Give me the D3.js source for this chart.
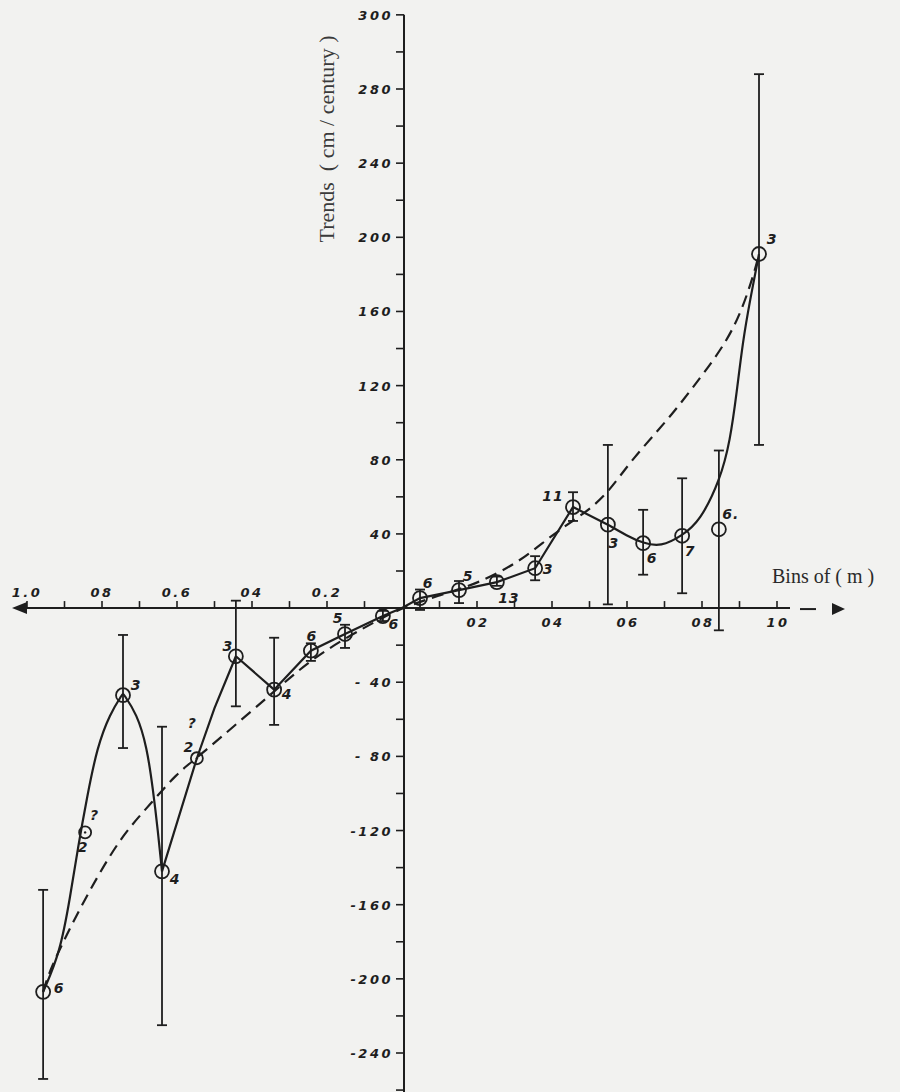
<!DOCTYPE html>
<html>
<head>
<meta charset="utf-8">
<script src="https://cdn.jsdelivr.net/npm/d3@7"></script>
<style>
  html, body { margin: 0; padding: 0; background: #f2f2f0; }
  svg { display: block; }
</style>
</head>
<body>
<div id="chart"></div>
<script>
// bins (m), negative = left branch of the figure
const binX = [-0.957, -0.845, -0.744, -0.64, -0.547, -0.443, -0.341, -0.243, -0.152, -0.051,
              0.048, 0.152, 0.253, 0.355, 0.456, 0.549, 0.643, 0.747, 0.845, 0.952];
const trend = [-207, -121, -47, -142, -81, -26, -44, -23, -14, -4.3,
               5.4, 9.7, 14, 21.5, 54.5, 45, 35, 39, 42.5, 191];
const errLow = [-254, null, -75.5, -225, null, -53, -63, -28.5, -21.5, -7,
                -1, 2.7, 12, 15, 47, 2, 18, 8, -12, 88];
const errHigh = [-152, null, -14.5, -64, null, 4, -16, -19, -9, -1.5,
                 10, 14.6, 17, 28, 62.5, 88, 53, 70, 85, 288];
const counts = ["6", "2", "3", "4", "2", "3", "4", "6", "5", "6",
                "6", "5", "13", "3", "11", "3", "6", "7", "6.", "3"];
const uncertain = [false, true, false, false, true, false, false, false, false, false,
                   false, false, false, false, false, false, false, false, false, false];

// hand drawn solid curve, in pieces (corners between pieces)
const solidSmoothLeft = [[-0.957, -207], [-0.912, -186], [-0.885, -156], [-0.864, -129], [-0.84, -102],
                         [-0.813, -75], [-0.779, -57], [-0.744, -46], [-0.744, -46], [-0.707, -57], [-0.68, -75],
                         [-0.664, -98], [-0.651, -120], [-0.64, -142]];
const solidMidLeft = [[-0.64, -142], [-0.547, -81], [-0.5, -54], [-0.443, -26]];
const solidCentre = [[-0.443, -26], [-0.341, -44], [-0.243, -23], [-0.152, -14], [-0.051, -4.3], [0, 0],
                     [0.048, 5.4], [0.152, 9.7], [0.253, 14], [0.355, 21.5], [0.456, 54.5], [0.549, 45]];
const solidSmoothRight = [[0.549, 45], [0.6, 39], [0.643, 35], [0.69, 33], [0.747, 39], [0.795, 47],
                          [0.848, 69], [0.875, 90], [0.893, 117], [0.909, 144], [0.928, 166], [0.952, 191]];

// dashed fitted curve
const dashedCurve = [[-0.957, -207], [-0.939, -195], [-0.877, -169], [-0.813, -145], [-0.744, -122],
                     [-0.672, -106], [-0.6, -89], [-0.547, -81], [-0.341, -45], [-0.25, -29], [-0.15, -16],
                     [-0.05, -5], [0, 0], [0.1, 7], [0.2, 13], [0.315, 25], [0.403, 40], [0.493, 52],
                     [0.549, 62], [0.616, 81], [0.707, 101], [0.795, 124], [0.867, 144], [0.909, 162],
                     [0.941, 182], [0.952, 191]];

const yMajor = [-240, -200, -160, -120, -80, -40, 40, 80, 120, 160, 200, 240, 280, 320];
const yMajorText = ["-240", "-200", "-160", "-120", "- 80", "- 40", "40", "80", "120", "160", "200", "240", "280", "300"];
const yMinor = [-260, -220, -180, -140, -100, -60, -20, 20, 60, 100, 140, 180, 220, 260, 300];
const xTicks = [-1, -0.9, -0.8, -0.7, -0.6, -0.5, -0.4, -0.3, -0.2, -0.1,
                0.1, 0.2, 0.3, 0.4, 0.5, 0.6, 0.7, 0.8, 0.9, 1.0];
const xLabelLeft = [-1, -0.8, -0.6, -0.4, -0.2];
const xLabelLeftText = ["1.0", "08", "0.6", "04", "0.2"];
const xLabelRight = [0.2, 0.4, 0.6, 0.8, 1.0];
const xLabelRightText = ["02", "04", "06", "08", "10"];

// where each count label (and its "?") sits relative to the circle
const labelOffset = [[16, -4], [-2, 15], [13, -10], [13, 8], [-8, -11], [-8, -10], [13, 4], [1, -15], [-7, -16], [11, 8],
                     [8, -15], [9, -14], [12, 16], [13, 1], [-20, -11], [6, 18], [9, 15], [8, 15], [12, -15], [13, -15]];
const qOffset = [null, [9, -17], null, null, [-5, -35], null, null, null, null, null,
                 null, null, null, null, null, null, null, null, null, null];

const width = 900, height = 1092;
const ink = "#1e1e1e";

const svg = d3.select("#chart").append("svg")
    .attr("width", width)
    .attr("height", height);

svg.append("rect").attr("width", width).attr("height", height).attr("fill", "#f2f2f0");

const x = d3.scaleLinear().domain([-1, 1]).range([27, 777]);
const y = d3.scaleLinear().domain([-240, 280]).range([1053, 89]);
const x0 = x(0) + 2, y0 = y(0);

const handFont = "'DejaVu Sans', sans-serif";

function hand(sel, size) {
    return sel.attr("font-family", handFont)
        .attr("font-style", "italic")
        .attr("font-weight", "bold")
        .attr("font-size", size)
        .attr("fill", ink);
}

// ---- vertical axis
svg.append("line")
    .attr("x1", x0).attr("x2", x0)
    .attr("y1", y(320)).attr("y2", height)
    .attr("stroke", ink).attr("stroke-width", 2);

svg.selectAll(".ytick").data(yMajor.concat(yMinor)).enter().append("line")
    .attr("x1", x0 - 8).attr("x2", x0)
    .attr("y1", d => y(d)).attr("y2", d => y(d))
    .attr("stroke", ink).attr("stroke-width", 1.6);

hand(svg.selectAll(".ylab").data(yMajor).enter().append("text"), 13)
    .attr("x", x0 - 11)
    .attr("y", d => y(d) + 5)
    .attr("text-anchor", "end")
    .attr("letter-spacing", 2.5)
    .text((d, i) => yMajorText[i]);

// ---- horizontal axis with arrows
svg.append("line")
    .attr("x1", 22).attr("x2", 790)
    .attr("y1", y0).attr("y2", y0)
    .attr("stroke", ink).attr("stroke-width", 2);
svg.append("line")
    .attr("x1", 800).attr("x2", 816)
    .attr("y1", y0 + 1).attr("y2", y0 + 1)
    .attr("stroke", ink).attr("stroke-width", 2);
svg.append("path")
    .attr("d", `M12,${y0} L27,${y0 - 6} L27,${y0 + 6} Z`)
    .attr("fill", ink);
svg.append("path")
    .attr("d", `M845,${y0 + 1} L832,${y0 - 5} L832,${y0 + 7} Z`)
    .attr("fill", ink);

svg.selectAll(".xt").data(xTicks).enter().append("line")
    .attr("x1", d => x(d)).attr("x2", d => x(d))
    .attr("y1", y0 - 7).attr("y2", y0)
    .attr("stroke", ink).attr("stroke-width", 1.6);

hand(svg.selectAll(".xll").data(xLabelLeft).enter().append("text"), 13)
    .attr("x", d => x(d))
    .attr("y", y0 - 11)
    .attr("text-anchor", "middle")
    .attr("letter-spacing", 2.5)
    .text((d, i) => xLabelLeftText[i]);

hand(svg.selectAll(".xlr").data(xLabelRight).enter().append("text"), 13)
    .attr("x", d => x(d) + 1)
    .attr("y", y0 + 19)
    .attr("text-anchor", "middle")
    .attr("letter-spacing", 2.5)
    .text((d, i) => xLabelRightText[i]);

// ---- axis titles
svg.append("text")
    .attr("transform", `translate(334,139) rotate(-90)`)
    .attr("text-anchor", "middle")
    .attr("font-family", "'Liberation Serif', serif")
    .attr("font-size", 22)
    .attr("fill", "#3a3a3a")
    .attr("xml:space", "preserve")
    .text("Trends  ( cm / century )");

svg.append("text")
    .attr("x", 772).attr("y", 583)
    .attr("font-family", "'Liberation Serif', serif")
    .attr("font-size", 20)
    .attr("fill", "#2a2a2a")
    .text("Bins of ( m )");

// ---- curves (B-spline smooths the hand-read points)
const line = d3.line().x(d => x(d[0])).y(d => y(d[1]));

svg.append("path")
    .attr("d", line.curve(d3.curveBasis)(dashedCurve))
    .attr("fill", "none").attr("stroke", ink)
    .attr("stroke-width", 2.2).attr("stroke-dasharray", "12,7");

[solidSmoothLeft, solidSmoothRight].forEach(seg => {
    svg.append("path")
        .attr("d", line.curve(d3.curveBasis)(seg))
        .attr("fill", "none").attr("stroke", ink).attr("stroke-width", 2.2);
});
[solidMidLeft, solidCentre].forEach(seg => {
    svg.append("path")
        .attr("d", line.curve(d3.curveLinear)(seg))
        .attr("fill", "none").attr("stroke", ink).attr("stroke-width", 2.2);
});

// ---- error bars
const points = binX.map((b, i) => ({
    b, v: trend[i], lo: errLow[i], hi: errHigh[i], n: counts[i], q: uncertain[i],
    off: labelOffset[i], qoff: qOffset[i]
}));
const bars = svg.selectAll(".err").data(points.filter(p => p.lo !== null)).enter().append("g");
bars.append("line")
    .attr("x1", d => x(d.b)).attr("x2", d => x(d.b))
    .attr("y1", d => y(d.lo)).attr("y2", d => y(d.hi))
    .attr("stroke", ink).attr("stroke-width", 1.8);
bars.append("line")
    .attr("x1", d => x(d.b) - 5).attr("x2", d => x(d.b) + 5)
    .attr("y1", d => y(d.lo)).attr("y2", d => y(d.lo))
    .attr("stroke", ink).attr("stroke-width", 1.8);
bars.append("line")
    .attr("x1", d => x(d.b) - 5).attr("x2", d => x(d.b) + 5)
    .attr("y1", d => y(d.hi)).attr("y2", d => y(d.hi))
    .attr("stroke", ink).attr("stroke-width", 1.8);

// ---- circles and counts
const pts = svg.selectAll(".pt").data(points).enter().append("g");
pts.append("circle")
    .attr("cx", d => x(d.b)).attr("cy", d => y(d.v))
    .attr("r", d => d.q ? 6 : 7)
    .attr("fill", "none")
    .attr("stroke", ink).attr("stroke-width", 1.8);
pts.filter(d => d.q).append("circle")
    .attr("cx", d => x(d.b)).attr("cy", d => y(d.v))
    .attr("r", 1.2).attr("fill", ink);

hand(pts.append("text"), 14)
    .attr("x", d => x(d.b) + d.off[0])
    .attr("y", d => y(d.v) + d.off[1] + 5)
    .attr("text-anchor", "middle")
    .attr("letter-spacing", 1)
    .text(d => d.n);

hand(pts.filter(d => d.q).append("text"), 14)
    .attr("x", d => x(d.b) + d.qoff[0])
    .attr("y", d => y(d.v) + d.qoff[1] + 5)
    .attr("text-anchor", "middle")
    .text("?");
</script>
</body>
</html>
